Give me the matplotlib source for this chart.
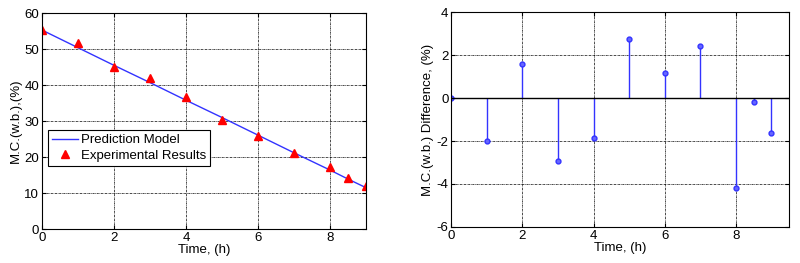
#!/usr/bin/env python3

import numpy as np
import matplotlib.pyplot as plt

params = {'font.family': ['Liberation Sans', 'DejaVu Sans'],
          'font.size': 9.5,
          'axes.unicode_minus': False,
          'xtick.direction': 'in',
          'ytick.direction': 'in',
          'xtick.top': True,
          'ytick.right': True}
plt.rcParams.update(params)

time_h = [0, 1, 2, 3, 4, 5, 6, 7, 8, 8.5, 9]
mc_experimental = [55.4, 51.6, 45.1, 42.0, 36.6, 30.4, 25.9, 21.0, 17.2, 14.2, 11.9]
mc_predicted = [55.3, 50.4, 45.5, 40.7, 35.8, 31.0, 26.1, 21.2, 16.4, 13.9, 11.5]
mc_difference = [0.02, -2.02, 1.57, -2.91, -1.84, 2.74, 1.17, 2.41, -4.17, -0.2, -1.63]

fig = plt.figure(figsize=(8, 2.63), dpi=100)
ax1 = fig.add_axes([0.0525, 0.129, 0.405, 0.821])
ax2 = fig.add_axes([0.564, 0.137, 0.4225, 0.817])

# left: model vs experiment
ax1.plot(time_h, mc_predicted, '-', color='#3333ff', lw=1, label='Prediction Model')
ax1.plot(time_h, mc_experimental, '^', color='red', ms=6, ls='none', label='Experimental Results')
ax1.set_xlim(0, 9)
ax1.set_ylim(0, 60)
ax1.set_xticks([0, 2, 4, 6, 8])
ax1.set_yticks(np.arange(0, 61, 10))
ax1.set_xlabel('Time, (h)', labelpad=0)
ax1.set_ylabel('M.C.(w.b.),(%)', labelpad=2)
leg = ax1.legend(loc='lower left', bbox_to_anchor=(0.01, 0.28), fancybox=False,
                 edgecolor='black', framealpha=1, handlelength=2.0,
                 borderpad=0.3, labelspacing=0.25, handletextpad=0.2,
                 borderaxespad=0.2)
leg.get_frame().set_linewidth(0.8)

# right: difference stems
markerline, stemlines, baseline = ax2.stem(time_h, mc_difference, linefmt='-', markerfmt='o', basefmt='k-')
plt.setp(stemlines, color='#3333ff', lw=1)
plt.setp(markerline, color='#3333ff', markerfacecolor='#6666ff', ms=3.5)
plt.setp(baseline, color='black', lw=1)
baseline.set_xdata([0, 9.5])
ax2.set_xlim(0, 9.5)
ax2.set_ylim(-6, 4)
ax2.set_xticks([0, 2, 4, 6, 8])
ax2.set_yticks([-6, -4, -2, 0, 2, 4])
ax2.set_xlabel('Time, (h)', labelpad=0)
ax2.set_ylabel('M.C.(w.b.) Difference, (%)', labelpad=2)

for ax in (ax1, ax2):
    ax.grid(True, color='black', ls=(0, (3, 1, 1, 1)), lw=0.5)
    ax.tick_params(length=3, pad=2)
    ax.set_axisbelow(True)

fig.savefig('out.png', dpi=100)
